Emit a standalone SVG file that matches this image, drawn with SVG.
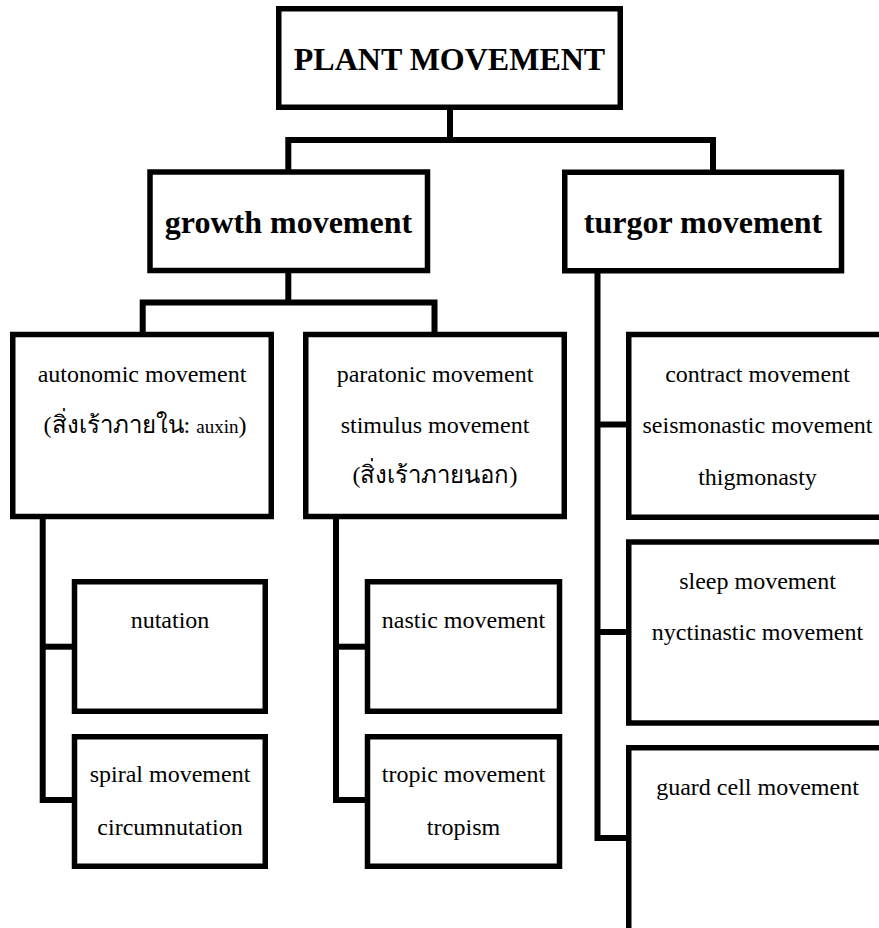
<svg xmlns="http://www.w3.org/2000/svg" width="879" height="928" viewBox="0 0 879 928">
<style>
.box{fill:#fff;stroke:#000;stroke-width:5.5}
.conn{fill:none;stroke:#000;stroke-width:6;stroke-linejoin:miter}
.b{font-family:"Liberation Serif","Times New Roman",serif;font-weight:bold;font-size:32px;fill:#000;text-anchor:middle}
.r{font-family:"Liberation Serif","Times New Roman","Noto Sans","DejaVu Sans",serif;font-size:24px;fill:#000;text-anchor:middle}
.s{font-size:19px}
</style>
<rect width="879" height="928" fill="#fff"/>
<g id="connectors">
<path class="conn" d="M450 110 V140"/>
<path class="conn" d="M288.3 170 V140 H713 V170"/>
<path class="conn" d="M288.3 273 V302.5"/>
<path class="conn" d="M142.7 332 V302.5 H434.5 V332"/>
<path class="conn" d="M42.7 519 V800 H72"/>
<path class="conn" d="M42.7 646.7 H72"/>
<path class="conn" d="M336 519 V800 H365"/>
<path class="conn" d="M336 646.7 H365"/>
<path class="conn" d="M597.5 273 V838 H627"/>
<path class="conn" d="M597.5 424.5 H627"/>
<path class="conn" d="M597.5 632 H627"/>
</g>
<g id="plant-movement">
<rect class="box" x="278.75" y="8.75" width="341.5" height="98.5"/>
<text class="b" x="449.5" y="70">PLANT MOVEMENT</text>
</g>
<g id="growth-movement">
<rect class="box" x="150" y="172" width="277.5" height="98.5"/>
<text class="b" x="288.5" y="232.5">growth movement</text>
</g>
<g id="turgor-movement">
<rect class="box" x="564.75" y="172.25" width="276.75" height="98.5"/>
<text class="b" x="703" y="232.5">turgor movement</text>
</g>
<g id="autonomic-movement">
<rect class="box" x="12.75" y="334.5" width="258.5" height="182"/>
<text class="r" x="142" y="381.5">autonomic movement</text>
<text class="r" x="145" y="433">(สิ่งเร้าภายใน: <tspan class="s">auxin</tspan>)</text>
</g>
<g id="paratonic-movement">
<rect class="box" x="305.75" y="334.5" width="258.5" height="182"/>
<text class="r" x="435" y="381.5">paratonic movement</text>
<text class="r" x="435" y="433">stimulus movement</text>
<text class="r" x="435" y="483">(สิ่งเร้าภายนอก)</text>
</g>
<g id="nutation">
<rect class="box" x="74.5" y="581.75" width="190.75" height="129.5"/>
<text class="r" x="170" y="628">nutation</text>
</g>
<g id="spiral-movement">
<rect class="box" x="74.5" y="736.75" width="190.75" height="129.5"/>
<text class="r" x="170" y="782">spiral movement</text>
<text class="r" x="170" y="835">circumnutation</text>
</g>
<g id="nastic-movement">
<rect class="box" x="367.5" y="581.75" width="192" height="129.5"/>
<text class="r" x="463.5" y="628">nastic movement</text>
</g>
<g id="tropic-movement">
<rect class="box" x="367.5" y="736.75" width="192" height="129.5"/>
<text class="r" x="463.5" y="782">tropic movement</text>
<text class="r" x="463.5" y="835">tropism</text>
</g>
<g id="contract-movement">
<rect class="box" x="628.75" y="334.5" width="270" height="182.75"/>
<text class="r" x="757.5" y="381.5">contract movement</text>
<text class="r" x="757.5" y="433.3">seismonastic movement</text>
<text class="r" x="757.5" y="485">thigmonasty</text>
</g>
<g id="sleep-movement">
<rect class="box" x="628.75" y="542" width="270" height="181"/>
<text class="r" x="757.5" y="589.3">sleep movement</text>
<text class="r" x="757.5" y="640">nyctinastic movement</text>
</g>
<g id="guard-cell-movement">
<rect class="box" x="628.75" y="747.75" width="270" height="250"/>
<text class="r" x="757.5" y="795">guard cell movement</text>
</g>
</svg>
